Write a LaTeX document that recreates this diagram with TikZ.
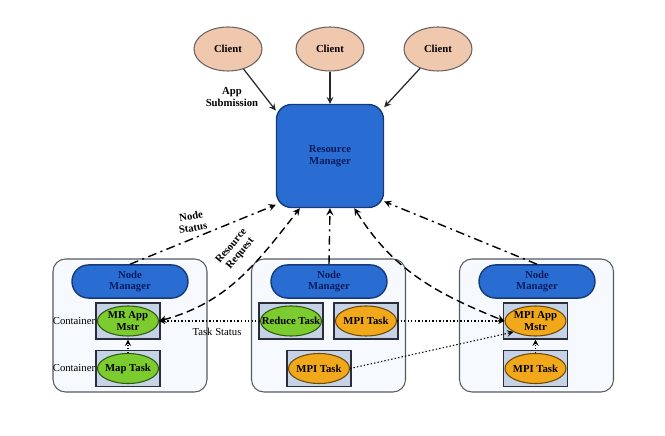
\documentclass[tikz,border=0pt]{standalone}
\usepackage{fontspec}
\setmainfont{Liberation Serif}
\usetikzlibrary{shapes.geometric, arrows}
\definecolor{clientfill}{HTML}{F0C8AE}
\definecolor{clientline}{HTML}{6A6260}
\definecolor{rmfill}{HTML}{2A6DD2}
\definecolor{rmline}{HTML}{15397A}
\definecolor{navytext}{HTML}{0B1C5E}
\definecolor{boxfill}{HTML}{C6D2E6}
\definecolor{boxline}{HTML}{2B2E3A}
\definecolor{greenfill}{HTML}{7CCB2F}
\definecolor{greenline}{HTML}{2F5812}
\definecolor{orangefill}{HTML}{F1A81B}
\definecolor{orangeline}{HTML}{6A4A06}
\definecolor{hostfill}{HTML}{F6F9FD}
\definecolor{hostline}{HTML}{555A60}
\newcommand{\diafont}{\fontsize{6.1}{6.6}\selectfont}
\tikzstyle{client} = [ellipse, draw=clientline, fill=clientfill, line width=0.6pt, minimum width=1.36cm, minimum height=0.88cm, inner sep=0pt, font=\diafont\bfseries]
\tikzstyle{manager} = [rectangle, draw=rmline, fill=rmfill, line width=0.8pt, rounded corners=0.3cm, minimum width=2.14cm, minimum height=2.06cm, text centered, align=center, text=navytext, font=\diafont\bfseries]
\tikzstyle{host} = [rectangle, draw=hostline, fill=hostfill, line width=0.6pt, rounded corners=0.25cm, minimum width=3.08cm, minimum height=2.66cm]
\tikzstyle{nodemgr} = [rectangle, draw=rmline, fill=rmfill, line width=0.8pt, rounded corners=0.33cm, minimum width=2.32cm, minimum height=0.66cm, align=center, text=navytext, font=\diafont\bfseries]
\tikzstyle{taskbox} = [rectangle, draw=boxline, fill=boxfill, line width=0.6pt, minimum width=1.28cm, minimum height=0.72cm]
\tikzstyle{task} = [ellipse, line width=0.6pt, minimum width=1.22cm, minimum height=0.6cm, inner sep=0pt]
\tikzstyle{tasktext} = [align=center, inner sep=0pt, font=\diafont\bfseries]
\tikzstyle{lbl} = [align=center, inner sep=0pt, font=\diafont\bfseries]
\tikzstyle{arrow} = [line width=0.7pt, >=stealth, color=black!85]
\tikzstyle{statusarrow} = [line width=0.8pt, >=stealth, dash pattern=on 5pt off 2.5pt on 1.2pt off 2.5pt]
\tikzstyle{requestarrow} = [line width=0.8pt, >=stealth, dash pattern=on 4.5pt off 2.5pt]
\tikzstyle{taskarrow} = [line width=0.6pt, >=stealth, dash pattern=on 0.8pt off 1.2pt]
\newcommand{\drawTask}[4]
{
    \node (b#1) [taskbox, #2] {};
    \node (#1) [task, #3, #2] {};
    \node [tasktext, #2] {#4};
}

\begin{document}
\begin{tikzpicture}
\useasboundingbox (-6.6,3.12) rectangle (6.7,-5.6);
\node (rm) [manager] {Resource\\Manager};
\node (c1) [client, xshift=-2.04cm, yshift=2.14cm] {Client};
\node (c2) [client, xshift=0.0cm, yshift=2.14cm] {Client};
\node (c3) [client, xshift=2.16cm, yshift=2.14cm] {Client};

\node (hostL) [host, xshift=-4.0cm, yshift=-3.39cm] {};
\node (hostM) [host, xshift=-0.03cm, yshift=-3.39cm] {};
\node (hostR) [host, xshift=4.13cm, yshift=-3.39cm] {};

\node (nmL) [nodemgr, xshift=-4.0cm, yshift=-2.51cm] {Node\\Manager};
\node (nmM) [nodemgr, xshift=-0.02cm, yshift=-2.51cm] {Node\\Manager};
\node (nmR) [nodemgr, xshift=4.14cm, yshift=-2.51cm] {Node\\Manager};

\drawTask{tMR}{xshift=-4.04cm, yshift=-3.30cm}{fill=greenfill, draw=greenline}{MR App\\Mstr}
\drawTask{tMap}{xshift=-4.04cm, yshift=-4.25cm}{fill=greenfill, draw=greenline}{Map Task}
\drawTask{tRD}{xshift=-0.78cm, yshift=-3.30cm}{fill=greenfill, draw=greenline}{Reduce Task}
\drawTask{tMP1}{xshift=0.72cm, yshift=-3.30cm}{fill=orangefill, draw=orangeline}{MPI Task}
\drawTask{tMP2}{xshift=-0.22cm, yshift=-4.25cm}{fill=orangefill, draw=orangeline}{MPI Task}
\drawTask{tMA}{xshift=4.11cm, yshift=-3.30cm}{fill=orangefill, draw=orangeline}{MPI App\\Mstr}
\drawTask{tMP3}{xshift=4.11cm, yshift=-4.25cm}{fill=orangefill, draw=orangeline}{MPI Task}

\node (cntA) [font=\diafont, inner sep=0pt, xshift=-5.12cm, yshift=-3.30cm] {Container};
\node (cntB) [font=\diafont, inner sep=0pt, xshift=-5.12cm, yshift=-4.25cm] {Container};

\draw [arrow, ->] (c1) -- (rm.140);
\draw [arrow, ->] (c2) -- (rm.north);
\draw [arrow, ->] (c3) -- (rm.42);

\draw [statusarrow, ->] (nmL.north) -- (rm.222);
\draw [statusarrow, ->] (nmM.north) -- (rm.south);
\draw [statusarrow, ->] (nmR.north) -- (rm.320);

\draw [requestarrow, <->] (tMR.east) to[out=15, in=232] (rm.240);
\draw [requestarrow, <->] (rm.295) to[out=-58, in=158] (tMA.west);

\draw [taskarrow, ->] (tRD.west) -- (tMR.east);
\draw [taskarrow, ->] (tMP1.east) -- (tMA.west);
\draw [taskarrow, ->] (tMP2.east) -- (tMA.south west);
\draw [taskarrow, ->] (tMap.north) -- (btMR.south);
\draw [taskarrow, ->] (tMP3.north) -- (btMA.south);

\node (appsub) [lbl, xshift=-1.96cm, yshift=1.18cm] {App\\Submission};
\node (nstatus) [lbl, xshift=-2.76cm, yshift=-1.32cm, rotate=10] {Node\\Status};
\node (rreq) [lbl, xshift=-1.88cm, yshift=-1.88cm, rotate=50] {Resource\\Request};
\node (tstatus) [font=\diafont, inner sep=0pt, xshift=-2.26cm, yshift=-3.52cm] {Task Status};

\end{tikzpicture}
\end{document}
